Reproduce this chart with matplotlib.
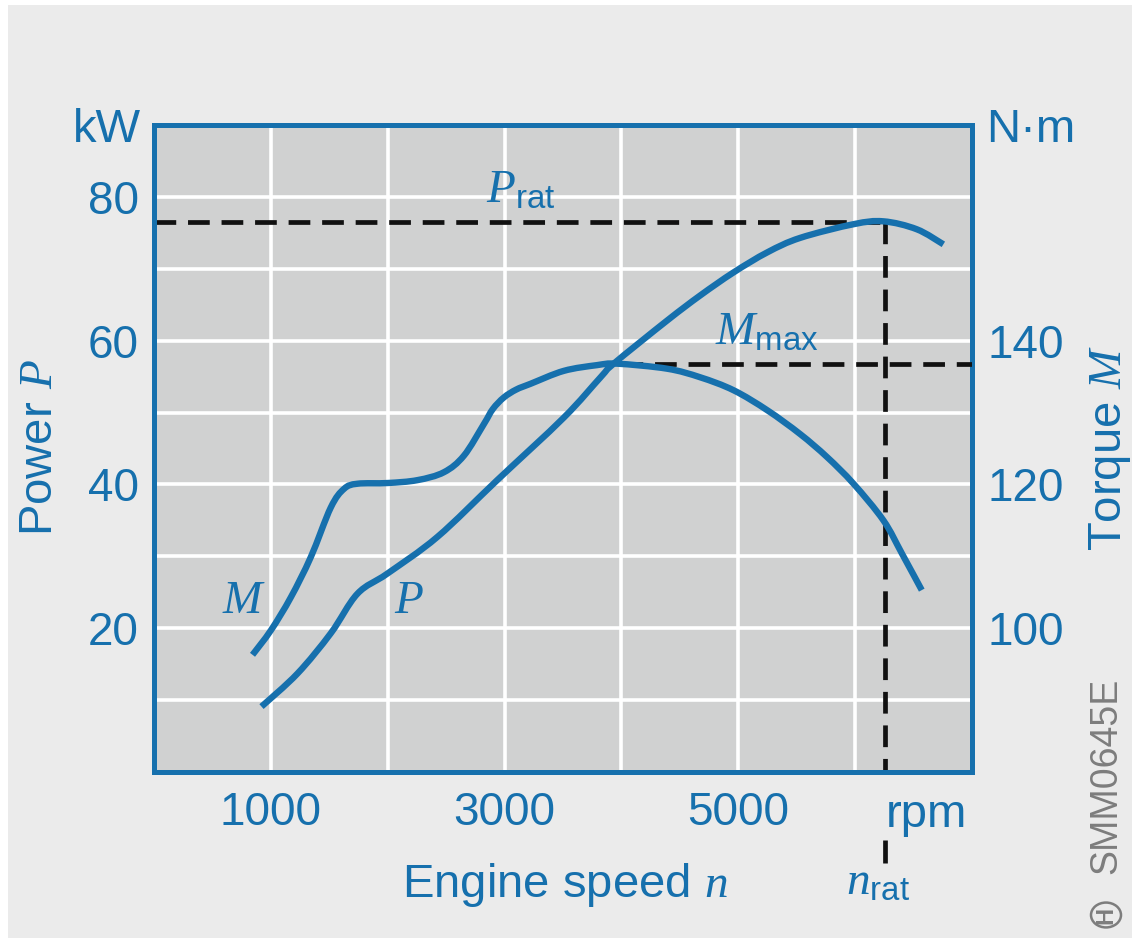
import matplotlib
matplotlib.use("Agg")
import numpy as np
import matplotlib.pyplot as plt
from matplotlib.patches import Rectangle, Circle, PathPatch
from matplotlib.path import Path

# ---- data ----
P_speed = [920, 1228, 1513, 1741, 1997, 2425, 2937, 3507, 3821, 3934, 4391, 4675,
           4960, 5250, 5530, 5986, 6242, 6527, 6755]
P_power = [9.1, 13.7, 19.3, 24.8, 27.6, 32.7, 40.6, 49.3, 54.9, 56.8, 62.8, 66.3,
           69.5, 72.3, 74.3, 76.2, 76.6, 75.5, 73.4]

M_speed = [843, 1000, 1171, 1342, 1513, 1627, 1741, 2000, 2254, 2481, 2652, 2823,
           2900, 2994, 3100, 3222, 3507, 3792, 3963, 4391, 4675, 4960, 5250, 5530,
           5760, 5986, 6242, 6400, 6570]
M_torque = [96.3, 99.7, 104.3, 109.9, 116.8, 119.4, 120.1, 120.2, 120.6, 121.7, 124.0,
            128.4, 130.5, 132.1, 133.2, 134.0, 135.8, 136.6, 136.8, 136.1, 134.9,
            133.1, 130.3, 127.0, 123.8, 120.1, 115.0, 110.4, 105.3]

P_rat = 76.5
n_rat = 6256
M_max = 136.8
M_max_speed = 4000

x_ticks = [1000, 2000, 3000, 4000, 5000, 6000]
x_ticklabels = ["1000", "", "3000", "", "5000", ""]
p_ticks = [20, 40, 60, 80]
m_ticks = [100, 120, 140]

# ---- style ----
W, H = 1132, 938
BLUE = "#1670ad"
plt.rcParams["font.family"] = ["Liberation Sans", "DejaVu Sans"]
plt.rcParams["mathtext.fontset"] = "custom"
plt.rcParams["mathtext.it"] = "Liberation Serif:italic"
plt.rcParams["mathtext.rm"] = "Liberation Sans"
plt.rcParams["mathtext.default"] = "it"

fig = plt.figure(figsize=(W / 100, H / 100), dpi=100, facecolor="white")
fig.patches.append(Rectangle((8 / W, 0), 1, 1 - 5 / H, transform=fig.transFigure,
                             facecolor="#ebebeb", edgecolor="none", zorder=-10))


def fx(x):
    return x / W


def fy(y):
    return 1 - y / H


def smooth_path(xs, ys):
    """Bezier path through the given points (Catmull-Rom tangents)."""
    p = np.column_stack([xs, ys]).astype(float)
    ext = np.vstack([p[0], p, p[-1]])
    verts = [p[0]]
    codes = [Path.MOVETO]
    for i in range(len(p) - 1):
        p0, p1, p2, p3 = ext[i], ext[i + 1], ext[i + 2], ext[i + 3]
        c1 = p1 + (p2 - p0) / 6.0
        c2 = p2 - (p3 - p1) / 6.0
        verts += [c1, c2, p2]
        codes += [Path.CURVE4] * 3
    return Path(np.array(verts), codes)


ax = fig.add_axes([fx(154), fy(772), (972 - 154) / W, (772 - 125) / H])
ax.set_facecolor("#d0d1d1")
ax.set_xlim(0, 7000)
ax.set_ylim(0, 90)
ax2 = ax.twinx()
ax2.set_ylim(80, 170)

# grid
for gx in x_ticks:
    ax.axvline(gx, color="white", lw=2.6, zorder=1)
for gy in range(10, 90, 10):
    ax.axhline(gy, color="white", lw=2.6, zorder=1)

# curves
ax.add_patch(PathPatch(smooth_path(P_speed, P_power), facecolor="none",
                       edgecolor=BLUE, lw=4.6, capstyle="butt", zorder=5))
ax2.add_patch(PathPatch(smooth_path(M_speed, M_torque), facecolor="none",
                        edgecolor=BLUE, lw=4.6, capstyle="butt", zorder=5))

# dashed reference lines
dash = dict(color="#111111", lw=3.4, dashes=(4.6, 2.5))
ax.plot([0, n_rat], [P_rat, P_rat], zorder=4, **dash)
ax.plot([n_rat, n_rat], [P_rat, 0], zorder=4, **dash)
ax.plot([n_rat, n_rat], [-9.4, -12.6], zorder=4, clip_on=False, color="#111111",
        lw=3.4, solid_capstyle="butt")
ax2.plot([M_max_speed, 7000], [M_max, M_max], zorder=4, **dash)

# ticks
ax.set_xticks(x_ticks)
ax.set_xticklabels(x_ticklabels)
ax.set_yticks(p_ticks)
ax2.set_yticks(m_ticks)
for a in (ax, ax2):
    a.tick_params(length=0, labelsize=33, colors=BLUE, pad=11)
    for s in a.spines.values():
        s.set_color(BLUE)
        s.set_linewidth(3.6)
ax.tick_params(axis="x", pad=14)

# texts
tkw = dict(color=BLUE, fontsize=34)
fig.text(fx(141), fy(142), "kW", ha="right", va="baseline", **tkw)
fig.text(fx(986), fy(142), "N·m", ha="left", va="baseline", **tkw)
fig.text(fx(886), fy(827), "rpm", ha="left", va="baseline", **tkw)
fig.text(fx(565), fy(897), r"Engine speed $n$", ha="center", va="baseline", **tkw)
fig.text(fx(846), fy(895), r"$n_{\mathrm{rat}}$", ha="left", va="baseline", **tkw)
fig.text(fx(40), fy(448), r"Power $P$", ha="center", va="center", rotation=90, **tkw)
fig.text(fx(1110), fy(448), r"Torque $M$", ha="center", va="center", rotation=90, **tkw)
fig.text(fx(486), fy(203), r"$P_{\mathrm{rat}}$", ha="left", va="baseline", **tkw)
fig.text(fx(715), fy(345), r"$M_{\mathrm{max}}$", ha="left", va="baseline", **tkw)
fig.text(fx(222), fy(613), r"$M$", ha="left", va="baseline", **tkw)
fig.text(fx(394), fy(613), r"$P$", ha="left", va="baseline", **tkw)

# document code and logo
fig.text(fx(1106), fy(776), "SMM0645E", ha="center", va="center", rotation=90,
         color="#7d7d7d", fontsize=27)
fig.patches.append(Circle((fx(1106), fy(915)), 15 / W, transform=fig.transFigure,
                          facecolor="none", edgecolor="#7d7d7d", lw=1.8))
fig.text(fx(1106), fy(915), "H", ha="center", va="center", rotation=90,
         color="#7d7d7d", fontsize=17, fontweight="bold")

fig.savefig("out.png", dpi=100, facecolor=fig.get_facecolor())
